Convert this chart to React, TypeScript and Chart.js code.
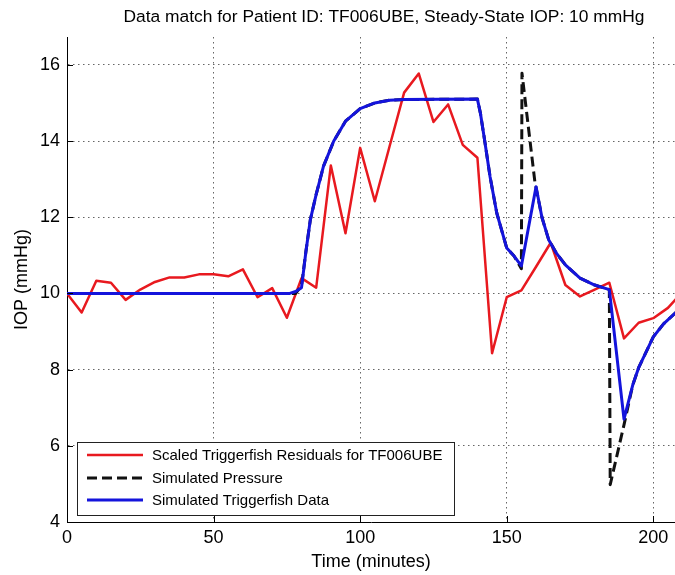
import React, { useEffect, useRef } from "react";
import { Chart, registerables } from "chart.js";

Chart.register(...registerables);

// ---------- text ----------
const chartTitle = "Data match for Patient ID: TF006UBE, Steady-State IOP: 10 mmHg";
const xAxisLabel = "Time (minutes)";
const yAxisLabel = "IOP (mmHg)";
const seriesNames = [
  "Scaled Triggerfish Residuals for TF006UBE",
  "Simulated Pressure",
  "Simulated Triggerfish Data",
];

// ---------- ticks ----------
const xTicks = [0, 50, 100, 150, 200];
const yTicks = [4, 6, 8, 10, 12, 14, 16];

// ---------- data ----------
const residualTime = [
  0, 5, 10, 15, 20, 25, 30, 35, 40, 45, 50, 55, 60, 65, 70, 75, 80, 85, 90, 95, 100,
  105, 110, 115, 120, 125, 130, 135, 140, 145, 150, 155, 160, 165, 170, 175, 180,
  185, 190, 195, 200, 205, 210,
];
const residualIOP = [
  10.0, 9.5, 10.33, 10.28, 9.83, 10.1, 10.3, 10.42, 10.42, 10.5, 10.5, 10.45, 10.63,
  9.9, 10.14, 9.36, 10.4, 10.15, 13.36, 11.58, 13.82, 12.42, 13.85, 15.27, 15.77,
  14.5, 14.96, 13.9, 13.56, 8.43, 9.9, 10.08, 10.7, 11.33, 10.22, 9.92, 10.1, 10.28,
  8.82, 9.23, 9.35, 9.62, 10.05,
];

const simTime = [
  0, 76, 78, 80, 81.5, 83, 85, 87.5, 91, 95, 100, 105, 110, 115, 140, 141, 142.6,
  144.3, 146.6, 150, 152.5, 155, 160, 162, 164.3, 167, 170, 175, 180, 185, 190, 193,
  195, 200, 203.5, 208,
];
const simIOP = [
  10, 10, 10.05, 10.15, 11.1, 11.93, 12.6, 13.34, 14.0, 14.52, 14.85, 15.0, 15.07,
  15.09, 15.1, 14.74, 13.95, 13.07, 12.11, 11.19, 10.98, 10.72, 12.8, 12.0, 11.41,
  11.05, 10.75, 10.4, 10.22, 10.1, 6.7, 7.6, 8.05, 8.86, 9.2, 9.52,
];

const pressureTime = [
  0, 76, 78, 80, 81.5, 83, 85, 87.5, 91, 95, 100, 105, 110, 115, 140, 141, 142.6,
  144.3, 146.6, 150, 152.5, 155, 155.2, 159.6, 162, 164.3, 167, 170, 175, 180, 185,
  185.3, 190, 193, 195, 200, 203.5, 208,
];
const pressureIOP = [
  10, 10, 10, 10.2, 11.1, 11.93, 12.6, 13.34, 14.0, 14.52, 14.85, 15.0, 15.07, 15.09,
  15.1, 14.74, 13.95, 13.07, 12.11, 11.19, 10.98, 10.65, 15.78, 12.93, 12.0, 11.41,
  11.05, 10.75, 10.4, 10.22, 10.1, 4.98, 6.55, 7.6, 8.05, 8.86, 9.2, 9.52,
];

const FONT = "'Liberation Sans', Arial, Helvetica, sans-serif";

const toPoints = (xs: number[], ys: number[]) => xs.map((x, i) => ({ x, y: ys[i] }));

const decorPlugin = {
  id: "matlabDecor",
  afterDraw(chart: any) {
    const { ctx, chartArea, scales } = chart;
    const { left, right, top, bottom } = chartArea;
    ctx.save();
    ctx.setLineDash([]);
    ctx.strokeStyle = "#000";
    ctx.lineWidth = 1;
    // inward tick marks
    for (const v of xTicks) {
      const px = Math.round(scales.x.getPixelForValue(v)) + 0.5;
      ctx.beginPath();
      ctx.moveTo(px, bottom);
      ctx.lineTo(px, bottom - 6);
      ctx.stroke();
    }
    for (const v of yTicks) {
      const py = Math.round(scales.y.getPixelForValue(v)) + 0.5;
      ctx.beginPath();
      ctx.moveTo(left, py);
      ctx.lineTo(left + 6, py);
      ctx.stroke();
    }
    // title
    ctx.fillStyle = "#000";
    ctx.textAlign = "center";
    ctx.textBaseline = "middle";
    ctx.font = `17.4px ${FONT}`;
    ctx.fillText(chartTitle, 384, 17);
    // axis titles
    ctx.font = `18px ${FONT}`;
    ctx.fillText(xAxisLabel, (left + right) / 2, 562);
    ctx.save();
    ctx.translate(22, (top + bottom) / 2);
    ctx.rotate(-Math.PI / 2);
    ctx.fillText(yAxisLabel, 0, 0);
    ctx.restore();

    // legend box
    const bx = 77.5, by = 442.5, bw = 377, bh = 73;
    ctx.fillStyle = "#fff";
    ctx.fillRect(bx, by, bw, bh);
    ctx.strokeStyle = "#222";
    ctx.lineWidth = 1;
    ctx.strokeRect(bx, by, bw, bh);
    const rows = [455, 478, 500];
    const order = [0, 1, 2];
    ctx.font = `15px ${FONT}`;
    ctx.textAlign = "left";
    ctx.textBaseline = "middle";
    order.forEach((di, r) => {
      const ds = chart.data.datasets[di];
      const y = rows[r];
      ctx.save();
      ctx.strokeStyle = ds.borderColor;
      ctx.lineWidth = ds.borderWidth;
      ctx.setLineDash(ds.borderDash || []);
      ctx.beginPath();
      ctx.moveTo(87, y);
      ctx.lineTo(143, y);
      ctx.stroke();
      ctx.restore();
      ctx.fillStyle = "#000";
      ctx.fillText(ds.label, 152, y + 1);
    });
    ctx.restore();
  },
};

export default function App() {
  const canvasRef = useRef<HTMLCanvasElement | null>(null);

  useEffect(() => {
    if (!canvasRef.current) return;
    const gridStyle = { color: "#666", lineWidth: 1, drawTicks: false };
    const chart = new Chart(canvasRef.current, {
      type: "line",
      data: {
        datasets: [
          {
            label: seriesNames[0],
            data: toPoints(residualTime, residualIOP),
            borderColor: "#e8191f",
            borderWidth: 2.5,
            pointRadius: 0,
            fill: false,
            tension: 0,
            borderJoinStyle: "round",
            order: 2,
          },
          {
            label: seriesNames[1],
            data: toPoints(pressureTime, pressureIOP),
            borderColor: "#111111",
            borderWidth: 3,
            borderDash: [10, 5],
            pointRadius: 0,
            fill: false,
            tension: 0,
            borderJoinStyle: "round",
            order: 1,
          },
          {
            label: seriesNames[2],
            data: toPoints(simTime, simIOP),
            borderColor: "#1414dc",
            borderWidth: 3,
            pointRadius: 0,
            fill: false,
            tension: 0,
            borderJoinStyle: "round",
            order: 0,
          },
        ],
      },
      options: {
        animation: false,
        responsive: false,
        maintainAspectRatio: false,
        devicePixelRatio: 1,
        layout: { padding: { top: 37, left: 0, right: 0, bottom: 0 } },
        plugins: {
          legend: { display: false },
          title: { display: false },
          tooltip: { enabled: false },
        },
        scales: {
          x: {
            type: "linear",
            min: 0,
            max: 207.4,
            afterBuildTicks: (s: any) => {
              s.ticks = xTicks.map((v) => ({ value: v }));
            },
            afterFit: (s: any) => {
              s.height = 53;
            },
            grid: gridStyle,
            border: { display: true, color: "#000", width: 1, dash: [1.5, 3.5] },
            ticks: {
              color: "#000",
              font: { family: FONT, size: 18 },
              padding: 5,
              maxRotation: 0,
              autoSkip: false,
            },
          },
          y: {
            type: "linear",
            min: 4,
            max: 16.73,
            afterBuildTicks: (s: any) => {
              s.ticks = yTicks.map((v) => ({ value: v }));
            },
            afterFit: (s: any) => {
              s.width = 67;
            },
            grid: gridStyle,
            border: { display: true, color: "#000", width: 1, dash: [1.5, 3.5] },
            ticks: {
              color: "#000",
              font: { family: FONT, size: 18 },
              padding: 7,
              autoSkip: false,
            },
          },
        },
      },
      plugins: [decorPlugin],
    } as any);
    return () => chart.destroy();
  }, []);

  return (
    <div style={{ position: "absolute", left: 0, top: 0, width: 675, height: 575, background: "#fff" }}>
      <canvas ref={canvasRef} width={675} height={575} />
    </div>
  );
}
